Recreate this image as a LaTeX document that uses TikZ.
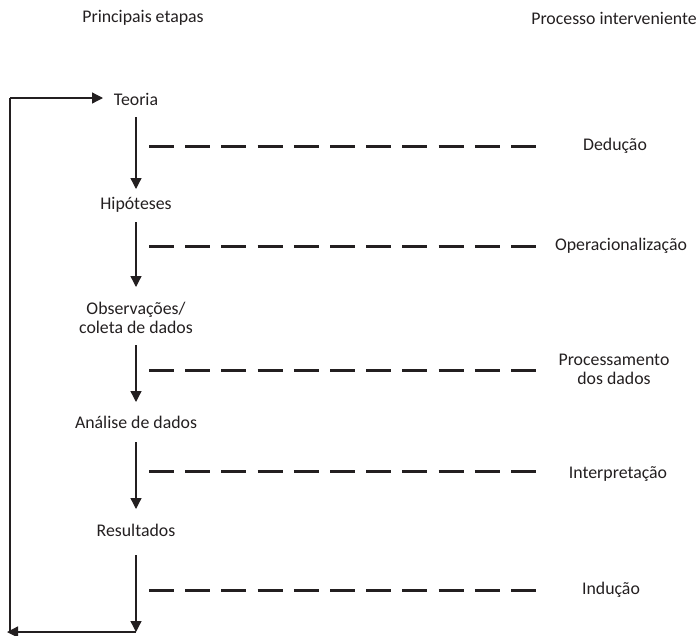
\documentclass[tikz,border=0pt]{standalone}
\usepackage{fontspec}
\setmainfont{Carlito}
\usetikzlibrary{arrows.meta}
\definecolor{ink}{HTML}{231F20}
\tikzset{
  lbl/.style={font=\fontsize{17.8}{19}\selectfont, text=ink, align=center, inner sep=0pt},
  flow/.style={draw=ink, line width=1.3pt, -{Triangle[length=11pt,width=11pt]}},
  link/.style={draw=ink, line width=1.3pt},
  proc/.style={draw=ink, line width=3pt, dash pattern=on 25pt off 11.2pt}
}
\begin{document}
\begin{tikzpicture}[x=1pt,y=-1pt]
\useasboundingbox (0,0) rectangle (699,635);
% column headings
\node[lbl] (h1) at (143,18) {Principais etapas};
\node[lbl] (h2) at (614,18) {Processo interveniente};
% main stages
\node[lbl] (teoria) at (136,99) {Teoria};
\node[lbl] (hip) at (136,205) {Hipóteses};
\node[lbl] (obs) at (136,318) {Observações/\\coleta de dados};
\node[lbl] (ana) at (136,422) {Análise de dados};
\node[lbl] (res) at (136,530) {Resultados};
\coordinate (end) at (136,632);
% intervening processes
\node[lbl] (ded) at (615,146) {Dedução};
\node[lbl] (ope) at (621,246) {Operacionalização};
\node[lbl] (pro) at (614,369) {Processamento\\dos dados};
\node[lbl] (int) at (618,474) {Interpretação};
\node[lbl] (ind) at (611,590) {Indução};
% vertical flow
\draw[flow] (136,117) -- (136,189);
\draw[flow] (136,222) -- (136,287);
\draw[flow] (136,345) -- (136,402);
\draw[flow] (136,442) -- (136,509);
\draw[flow] (136,555) -- (end);
% feedback loop
\coordinate (bl) at (10,632);
\coordinate (tl) at (10,98);
\draw[link] (end) -- (bl) -- (tl);
\draw[flow] (tl) -- (103,98);
\draw[flow] (60,632) -- (7,632);
% dashed connectors
\draw[proc] (149,146) -- (536,146);
\draw[proc] (149,246) -- (536,246);
\draw[proc] (149,370) -- (536,370);
\draw[proc] (149,471) -- (536,471);
\draw[proc] (149,590) -- (536,590);
\end{tikzpicture}
\end{document}
